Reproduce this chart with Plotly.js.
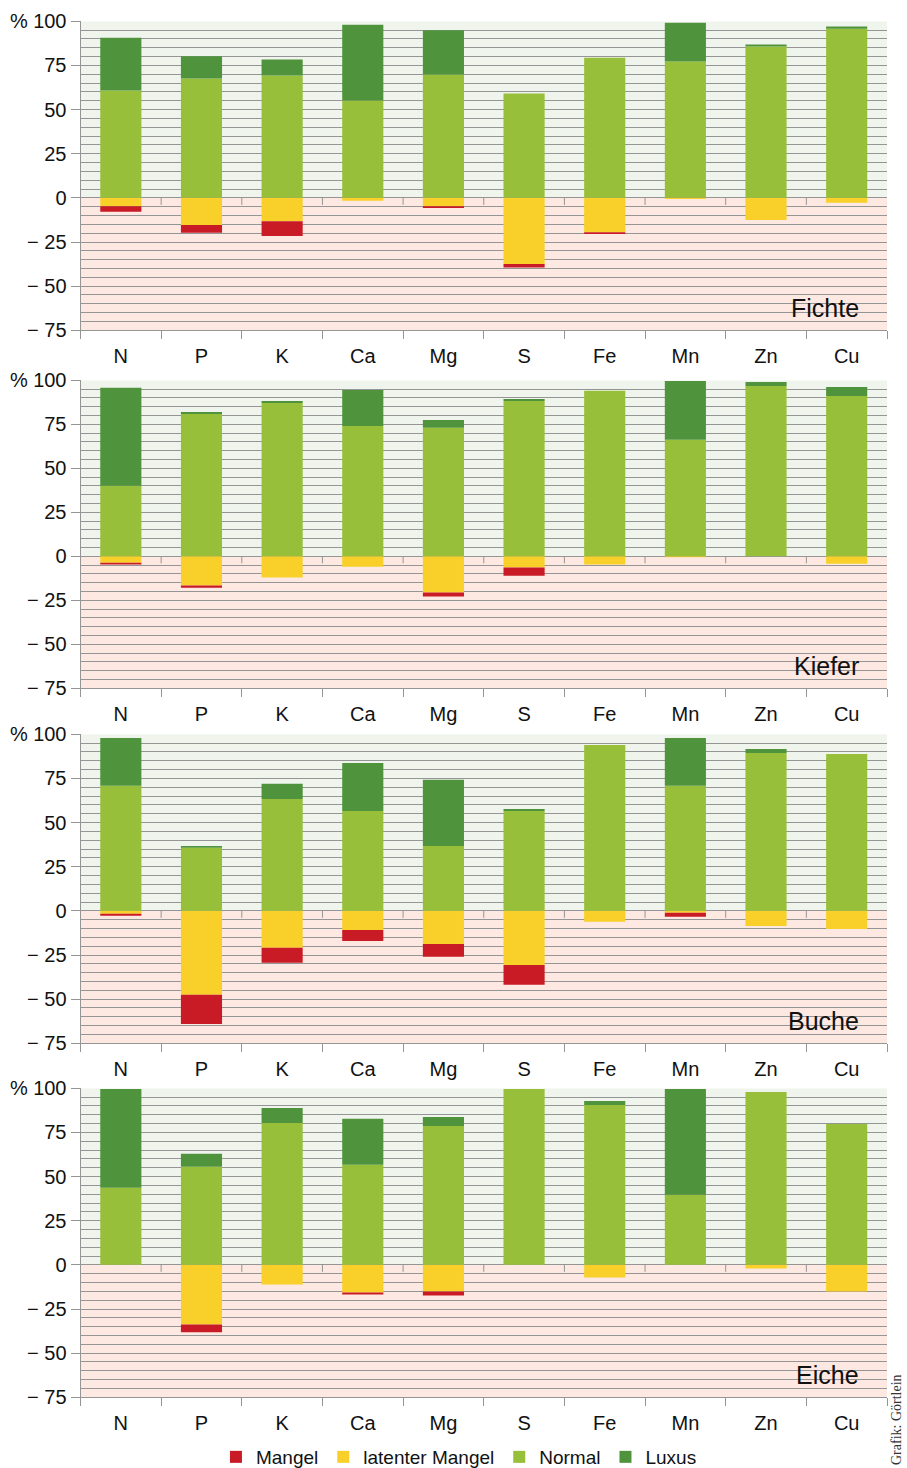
<!DOCTYPE html>
<html>
<head>
<meta charset="utf-8">
<script src="https://cdn.plot.ly/plotly-3.0.1.min.js"></script>
<style>
html,body{margin:0;padding:0;background:#fff;}
#chart{width:907px;height:1468px;}
</style>
</head>
<body>
<div id="chart"></div>
<script>
// ---- data ----
const categories = ['N','P','K','Ca','Mg','S','Fe','Mn','Zn','Cu'];
const panels = ['Fichte','Kiefer','Buche','Eiche'];
const seriesNames = ['Mangel','latenter Mangel','Normal','Luxus'];

// Fichte
const fichteNormal = [60.8, 67.6, 69.3, 55.2, 69.8, 59.1, 79.4, 77.2, 85.7, 95.8];
const fichteLuxus  = [29.9, 12.6, 9.0, 42.8, 25.1, 0, 0, 22.0, 1.1, 1.2];
const fichteLatent = [-4.7, -15.4, -13.2, -1.7, -4.7, -37.4, -19.4, -0.6, -12.6, -2.8];
const fichteMangel = [-3.2, -4.4, -8.4, 0, -1.1, -2.1, -1.1, 0, 0, 0];
// Kiefer
const kieferNormal = [40.1, 80.9, 87.1, 74.1, 73.0, 88.3, 94.0, 66.2, 96.8, 91.1];
const kieferLuxus  = [55.6, 1.1, 1.2, 20.4, 4.5, 1.1, 0, 33.4, 2.2, 5.1];
const kieferLatent = [-3.6, -16.6, -12.1, -5.9, -20.6, -6.4, -4.7, -0.6, 0, -4.2];
const kieferMangel = [-1.1, -1.2, 0, 0, -2.3, -4.6, 0, 0, 0, 0];
// Buche
const bucheNormal = [70.8, 35.7, 63.4, 56.6, 36.8, 56.6, 94.0, 70.8, 89.4, 88.9];
const bucheLuxus  = [27.1, 1.1, 8.6, 27.2, 37.4, 1.1, 0, 27.1, 2.3, 0];
const bucheLatent = [-1.7, -47.5, -20.9, -10.8, -18.7, -30.6, -6.2, -1.1, -8.5, -10.2];
const bucheMangel = [-1.1, -16.5, -8.5, -6.2, -7.3, -11.3, 0, -2.3, 0, 0];
// Eiche
const eicheNormal = [43.7, 55.6, 80.4, 56.7, 78.7, 99.6, 90.6, 39.7, 97.9, 79.8];
const eicheLuxus  = [55.9, 7.3, 8.5, 26.0, 5.1, 0, 2.2, 59.9, 0, 0];
const eicheLatent = [0, -33.7, -11.1, -15.6, -15.1, 0, -7.2, 0, -2.1, -15.1];
const eicheMangel = [0, -4.5, 0, -1.2, -2.2, 0, 0, 0, 0, 0];

const yTickVals = [-75, -50, -25, 0, 25, 50, 75, 100];
const yTickText = ['\u2212 75', '\u2212 50', '\u2212 25', '0', '25', '50', '75', '100'];

// ---- styling ----
const colors = {
  'Mangel': '#c91b26',
  'latenter Mangel': '#f9d02a',
  'Normal': '#97bf3a',
  'Luxus': '#4f943c'
};
const FONT = '"Liberation Sans", Arial, sans-serif';
const GRID = '#959595';
const TXT = '#111111';

const panelData = [
  {Normal: fichteNormal, Luxus: fichteLuxus, latent: fichteLatent, Mangel: fichteMangel},
  {Normal: kieferNormal, Luxus: kieferLuxus, latent: kieferLatent, Mangel: kieferMangel},
  {Normal: bucheNormal, Luxus: bucheLuxus, latent: bucheLatent, Mangel: bucheMangel},
  {Normal: eicheNormal, Luxus: eicheLuxus, latent: eicheLatent, Mangel: eicheMangel}
];

const H = 1468;
// plot area pixel tops / bottoms
const pxTop = [21.3, 380.3, 734.3, 1088.3];
const pxBot = [330.3, 688.3, 1043.3, 1397.3];
const xDom = [80.5/907, 887/907];

const traces = [];
const layout = {
  width: 907, height: H,
  margin: {l: 0, r: 0, t: 0, b: 0, autoexpand: false},
  paper_bgcolor: '#ffffff',
  plot_bgcolor: 'rgba(0,0,0,0)',
  barmode: 'relative',
  bargap: 0.49,
  font: {family: FONT, size: 20, color: TXT},
  showlegend: true,
  legend: {
    orientation: 'h', x: 0.506, xanchor: 'center', y: 1 - 1457/H, yanchor: 'middle',
    font: {family: FONT, size: 19, color: TXT},
    itemclick: false, itemdoubleclick: false,
    tracegroupgap: 0, itemwidth: 30
  },
  shapes: [],
  annotations: []
};

panels.forEach((name, p) => {
  const sfx = p === 0 ? '' : String(p + 1);
  const xa = 'x' + sfx, ya = 'y' + sfx;
  const d = panelData[p];
  const order = [
    ['latenter Mangel', d.latent, 2],
    ['Mangel', d.Mangel, 1],
    ['Normal', d.Normal, 3],
    ['Luxus', d.Luxus, 4]
  ];
  order.forEach(([sname, vals, rank]) => {
    traces.push({
      type: 'bar', name: sname, x: categories, y: vals,
      xaxis: xa, yaxis: ya,
      marker: {color: colors[sname], line: {width: 0}},
      legendgroup: sname, showlegend: p === 0, legendrank: rank,
      hoverinfo: 'skip'
    });
  });

  const dom = [1 - pxBot[p]/H, 1 - pxTop[p]/H];
  layout['xaxis' + sfx] = {
    domain: xDom, anchor: ya, type: 'category',
    categoryorder: 'array', categoryarray: categories,
    range: [-0.5, categories.length - 0.5],
    showline: true, linecolor: GRID, linewidth: 1,
    ticks: 'outside', tickson: 'boundaries', ticklen: 8, tickcolor: GRID, tickwidth: 1,
    ticklabelstandoff: 8,
    showgrid: false, zeroline: false, fixedrange: true,
    tickfont: {family: FONT, size: 20, color: TXT}
  };
  layout['yaxis' + sfx] = {
    domain: dom, anchor: xa, range: [-75, 100],
    tickmode: 'array', tickvals: yTickVals, ticktext: yTickText,
    ticks: 'outside', ticklen: 9, tickcolor: GRID, tickwidth: 1,
    showgrid: true, gridcolor: GRID, gridwidth: 1,
    minor: {dtick: 5, tick0: 0, showgrid: true, gridcolor: GRID, gridwidth: 1, ticks: ''},
    zeroline: false, showline: true, linecolor: GRID, linewidth: 1,
    fixedrange: true,
    tickfont: {family: FONT, size: 20, color: TXT}
  };
  // background shading
  layout.shapes.push({type: 'rect', xref: xa + ' domain', yref: ya, x0: 0, x1: 1, y0: 0, y1: 100,
    fillcolor: '#eff5ec', line: {width: 0}, layer: 'below'});
  layout.shapes.push({type: 'rect', xref: xa + ' domain', yref: ya, x0: 0, x1: 1, y0: -75, y1: 0,
    fillcolor: '#fde8e2', line: {width: 0}, layer: 'below'});
  // small ticks below zero line at category boundaries
  for (let i = 0; i < categories.length - 1; i++) {
    layout.shapes.push({type: 'line', xref: xa, yref: ya, ysizemode: 'pixel', yanchor: 0,
      x0: i + 0.5, x1: i + 0.5, y0: 0, y1: -7, line: {color: GRID, width: 1}, layer: 'above'});
  }
  // panel name
  layout.annotations.push({text: name, xref: 'paper', yref: ya + ' domain',
    x: 861/907, y: 0.02, xanchor: 'right', yanchor: 'bottom', showarrow: false,
    font: {family: FONT, size: 25, color: TXT}});
  // percent sign
  layout.annotations.push({text: '%', xref: 'paper', yref: ya,
    x: 19/907, y: 100, xanchor: 'center', yanchor: 'middle', showarrow: false,
    font: {family: FONT, size: 20, color: TXT}});
});

// credit
layout.annotations.push({text: 'Grafik: Görtlein', xref: 'paper', yref: 'paper',
  x: 896/907, y: 1 - 1420/H, xanchor: 'center', yanchor: 'middle', textangle: -90,
  showarrow: false, font: {family: '"Liberation Serif", "DejaVu Serif", serif', size: 14, color: '#333'}});

Plotly.newPlot('chart', traces, layout, {displayModeBar: false, staticPlot: true});
</script>
</body>
</html>
